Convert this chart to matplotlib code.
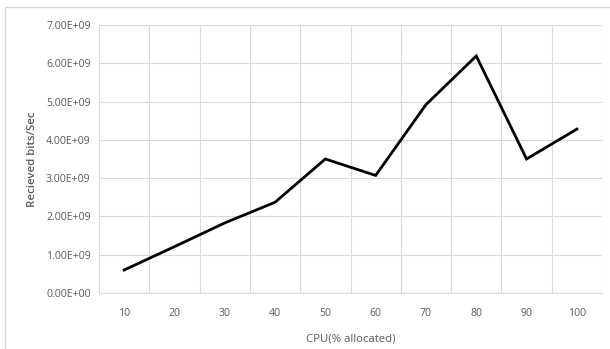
import matplotlib as mpl
mpl.use("Agg")
import matplotlib.pyplot as plt
import matplotlib.patches as patches
import numpy as np

plt.rcParams['font.family'] = ['Open Sans', 'DejaVu Sans']

cpu_labels = ['10', '20', '30', '40', '50', '60', '70', '80', '90', '100']
received = [0.60e9, 1.21e9, 1.83e9, 2.37e9, 3.50e9, 3.07e9, 4.92e9, 6.19e9, 3.50e9, 4.28e9]
y_ticks = np.arange(0, 8e9, 1e9)

grey_text = '#595959'
grid_col = '#d9d9d9'

fig = plt.figure(figsize=(6.10, 3.49), dpi=100)
ax = fig.add_axes([0.1623, 0.1605, 0.8246, 0.7679])

x = np.arange(len(cpu_labels))
ax.plot(x, received, color='black', linewidth=2.0, solid_joinstyle='miter', zorder=3)

ax.set_xlim(-0.5, len(cpu_labels) - 0.5)
ax.set_ylim(0, 7e9)
ax.set_xticks(x)
ax.set_xticklabels(cpu_labels)
ax.set_xticks(np.arange(len(cpu_labels) + 1) - 0.5, minor=True)
ax.set_yticks(y_ticks)
ax.set_yticklabels(['%.2fE+09' % (v / 1e9) if v > 0 else '0.00E+00' for v in y_ticks])

ax.grid(True, which='minor', axis='x', color=grid_col, linewidth=0.8)
ax.grid(True, which='major', axis='y', color=grid_col, linewidth=0.8)
ax.tick_params(axis='both', which='both', length=0, colors=grey_text, labelsize=7.6)
ax.tick_params(axis='x', pad=11)
ax.tick_params(axis='y', pad=6)

for s in ['top', 'right', 'left']:
    ax.spines[s].set_visible(False)
ax.spines['bottom'].set_color(grid_col)
ax.spines['bottom'].set_linewidth(0.8)

ax.set_xlabel('CPU(% allocated)', color=grey_text, fontsize=8.2, labelpad=10)
ax.set_ylabel('Recieved bits/Sec', color=grey_text, fontsize=8.2, fontweight='semibold', labelpad=6)

border = patches.Rectangle((5 / 610, -0.05), 1.0, 1 - 7 / 349 + 0.05, transform=fig.transFigure,
                           fill=False, edgecolor=grid_col, linewidth=1.0)
fig.patches.append(border)

plt.savefig("out.png", dpi=100)
